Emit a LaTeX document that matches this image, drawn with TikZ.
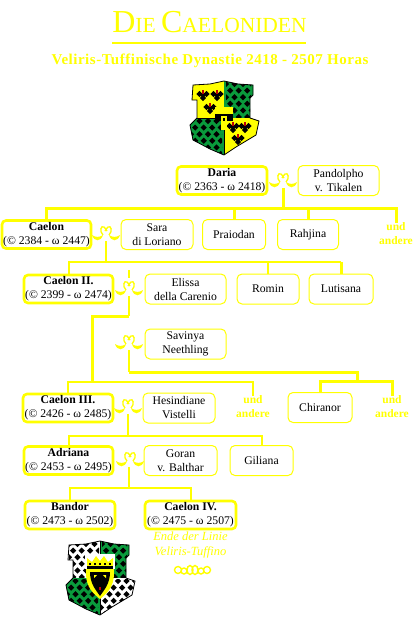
\documentclass[tikz,border=0pt]{standalone}
\usepackage{fontspec}
\setmainfont{Liberation Serif}
\usetikzlibrary{positioning}
\definecolor{gold}{HTML}{FFFF00}
\definecolor{shieldgreen}{HTML}{0A9A3C}
\definecolor{blobred}{HTML}{C00000}
\newcommand{\clubspot}[2]{%
  \fill[black] (#1,#2-1.6) circle (1.5) (#1-1.6,#2) circle (1.5) (#1+1.6,#2) circle (1.5) (#1,#2+1.6) circle (1.5);}
\newcommand{\spotfield}[4]{%
  \begin{scope}
    \clip (#1,#2) rectangle (#3,#4);
    \foreach \row in {0,...,6}{
      \foreach \col in {0,...,5}{
        \pgfmathsetmacro{\spotx}{#1+\col*8.5+mod(\row,2)*4.2}
        \pgfmathsetmacro{\spoty}{#2+2+\row*6.6}
        \clubspot{\spotx}{\spoty}
      }
    }
  \end{scope}}
\newcommand{\eagleblob}[2]{%
  \clubspot{#1-3.5}{#2}\clubspot{#1+3.5}{#2}\clubspot{#1}{#2+1}\clubspot{#1}{#2+4}
  \fill[blobred] (#1-.7,#2-4) rectangle (#1+.7,#2);}
\newcommand{\shieldoutline}{(-31,-33) -- (-14,-34) -- (0,-37) -- (14,-34) -- (29,-33) -- (29,-23) -- (26,-20) -- (26,0) -- (35,3) -- (32,17) -- (12,29) -- (0,37) -- (-14,31) -- (-31,22) -- (-34,7) -- (-27,0) -- (-27,-18) -- (-32,-18) -- cycle}
\begin{document}
\begin{tikzpicture}[
    x=1pt, y=-1pt,
    person/.style={
      draw=gold, line width=2.6pt, rounded corners=4pt, fill=white, align=center, outer sep=0pt,
      minimum height=28pt, inner sep=0pt, font=\fontsize{11.7}{14}\selectfont,
      execute at begin node=\rule{0pt}{11pt}
    },
    spouse/.style={
      draw=gold, line width=1pt, rounded corners=5pt, fill=white, align=center, outer sep=0pt,
      minimum height=30pt, inner sep=0pt, font=\fontsize{11.7}{14}\selectfont
    },
    others/.style={
      text=gold, align=center, inner sep=0pt, font=\bfseries\fontsize{11.5}{14}\selectfont
    },
    bar/.style={draw=gold, line width=2pt},
    trunk/.style={draw=gold, line width=3pt},
    wed/.pic={
      \fill[gold] (-14,0) .. controls (-12,7) and (-5,7) .. (-3,0) .. controls (-6,2.5) and (-11,2.5) .. cycle;
      \fill[gold] (3,0) .. controls (5,7) and (12,7) .. (14,0) .. controls (11,2.5) and (6,2.5) .. cycle;
      \draw[gold, line width=1.3pt] (-3,0) .. controls (-7,-4) and (-5,-10) .. (-2,-8) .. controls (-1,-7) .. (1,-4);
      \draw[gold, line width=1.3pt] (3,0) .. controls (7,-4) and (5,-10) .. (2,-8) .. controls (1,-7) .. (-1,-4);
    }
  ]
  \useasboundingbox (0,0) rectangle (420,626);
  \fill[white] (0,0) rectangle (420,626);

  \node[text=gold, inner sep=0pt, anchor=base] (title) at (209.5,33)
    {\fontsize{32}{32}\selectfont D\fontsize{21.5}{32}\selectfont IE \fontsize{32}{32}\selectfont C\fontsize{21.5}{32}\selectfont AELONIDEN};
  \fill[gold] (112,42) rectangle (306,44);
  \node[text=gold, inner sep=0pt, font=\bfseries\fontsize{15}{16}\selectfont\addfontfeatures{LetterSpace=3.5}] (subtitle) at (210,61)
    {Veliris-Tuffinische Dynastie 2418 - 2507 Horas};

  \begin{scope}[shift={(224,118)}]
    \begin{scope}
      \clip \shieldoutline;
      \fill[gold] (-40,-40) rectangle (0,0);
      \fill[shieldgreen] (0,-40) rectangle (40,0);
      \fill[shieldgreen] (-40,0) rectangle (0,40);
      \fill[gold] (0,0) rectangle (40,40);
      \spotfield{2}{-36}{27}{-1}
      \spotfield{-33}{1}{-2}{37}
    \end{scope}
    \eagleblob{-21}{-24}
    \eagleblob{-7}{-24}
    \eagleblob{-14}{-11}
    \eagleblob{9}{8}
    \eagleblob{21}{8}
    \eagleblob{14}{20}
    \draw[black, line width=1pt] (-27,0) -- (0,0) -- (0,37);
    \draw[black, line width=.8pt] \shieldoutline;
    \fill[black] (-9,-5) rectangle (9,3);
    \fill[gold] (-9,-11) -- (9,-11) -- (9,-4) -- (-9,-4) -- cycle;
    \fill[gold] (-3,-2) rectangle (3,12);
    \fill[black] (-1,0) rectangle (1,3);
  \end{scope}

  \node[person, minimum width=90pt] (daria) at (222,180.5) {\textbf{Daria}\\(© 2363 - ω 2418)};
  \node[spouse, minimum width=81pt, right=31pt of daria] (pandolpho) {Pandolpho\\v. Tikalen};
  \node[person, minimum width=89pt] (caelon) at (46.5,234.5) {\textbf{Caelon}\\(© 2384 - ω 2447)};
  \node[spouse, minimum width=72pt, right=30pt of caelon] (sara) {Sara\\di Loriano};
  \node[spouse, minimum width=63pt, right=9.5pt of sara] (praiodan) {Praiodan};
  \node[spouse, minimum width=61pt, right=12pt of praiodan] (rahjina) {Rahjina};
  \node[others] (undone) at (396,234) {und\\andere};
  \node[person, minimum width=89pt] (caelontwo) at (68.5,289) {\textbf{Caelon II.}\\(© 2399 - ω 2474)};
  \node[spouse, minimum width=81pt, right=32pt of caelontwo] (elissa) {Elissa\\della Carenio};
  \node[spouse, minimum width=62pt, right=11pt of elissa] (romin) {Romin};
  \node[spouse, minimum width=64pt, right=10pt of romin] (lutisana) {Lutisana};
  \node[spouse, minimum width=81pt] (savinya) at (185.5,344) {Savinya\\Neethling};
  \node[person, minimum width=90pt] (caelonthree) at (68,408) {\textbf{Caelon III.}\\(© 2426 - ω 2485)};
  \node[spouse, minimum width=72pt, right=30pt of caelonthree] (hesindiane) {Hesindiane\\Vistelli};
  \node[others] (undtwo) at (253,407) {und\\andere};
  \node[spouse, minimum width=64pt] (chiranor) at (320,407.5) {Chiranor};
  \node[others] (undthree) at (392,407) {und\\andere};
  \node[person, minimum width=89pt] (adriana) at (68.5,460.5) {\textbf{Adriana}\\(© 2453 - ω 2495)};
  \node[spouse, minimum width=73pt, right=31pt of adriana] (goran) {Goran\\v. Balthar};
  \node[spouse, minimum width=63pt, right=13pt of goran] (giliana) {Giliana};
  \node[person, minimum width=90pt] (bandor) at (70,515) {\textbf{Bandor}\\(© 2473 - ω 2502)};
  \node[person, minimum width=91pt] (caelonfour) at (190.5,515) {\textbf{Caelon IV.}\\(© 2475 - ω 2507)};
  \node[text=gold, align=center, inner sep=0pt, font=\itshape\fontsize{12.5}{15}\selectfont, below=3pt of caelonfour] (ende) {Ende der Linie\\Veliris-Tuffino};

  \coordinate (wdaria) at (283,182);
  \coordinate (wcaelon) at (106,235);
  \coordinate (wcaelontwo) at (129,290);
  \coordinate (wsavinya) at (129,344);
  \coordinate (wcaelonthree) at (128,408);
  \coordinate (wadriana) at (130,461);
  \foreach \wd in {wdaria,wcaelon,wcaelontwo,wsavinya,wcaelonthree,wadriana}{
    \pic at (\wd) {wed};
  }
  \coordinate (gendaria) at (0,208);
  \coordinate (gencaelon) at (0,262);
  \coordinate (gentwo) at (0,316);
  \coordinate (genthree) at (0,382);
  \coordinate (gensavinya) at (0,372);
  \coordinate (genchiranor) at (0,381);
  \coordinate (genadriana) at (0,436);
  \coordinate (genbandor) at (0,488);
  \coordinate (forkchiranor) at (357,372);
  \coordinate (forkthree) at (92,316);

  \draw[trunk] (wdaria) ++(0,6) -- (wdaria |- gendaria);
  \draw[trunk] (caelon.north) |- (undone.north |- gendaria) -- (undone.north);
  \draw[trunk] (praiodan.north) -- (praiodan.north |- gendaria);
  \draw[trunk] (rahjina.north) -- (rahjina.north |- gendaria);

  \draw[bar] (wcaelon) ++(0,6) -- (wcaelon |- gencaelon);
  \draw[bar] (caelontwo.north) |- (lutisana.north |- gencaelon);
  \draw[bar] (romin.north) -- (romin.north |- gencaelon);
  \draw[trunk] (lutisana.north) -- (lutisana.north |- gencaelon);

  \draw[bar] (wcaelontwo) ++(0,-20) -- ++(0,8);
  \draw[bar] (wcaelontwo) ++(0,6) -- (wcaelontwo |- gentwo);
  \draw[trunk] (wcaelontwo |- gentwo) -- (forkthree) -- (forkthree |- genthree);
  \draw[bar] (caelonthree.north) |- (undtwo.north |- genthree) -- (undtwo.north);

  \draw[bar] (wsavinya) ++(0,6) -- (wsavinya |- gensavinya);
  \draw[trunk] (wsavinya |- gensavinya) -- (forkchiranor) -- (forkchiranor |- genchiranor);
  \draw[trunk] (chiranor.north) |- (undthree.north |- genchiranor) -- (undthree.north);

  \draw[bar] (wcaelonthree) ++(0,6) -- (wcaelonthree |- genadriana);
  \draw[bar] (adriana.north) |- (giliana.north |- genadriana) -- (giliana.north);

  \draw[bar] (wadriana) ++(-1,6) -- (129,488);
  \draw[bar] (bandor.north) |- (caelonfour.north |- genbandor) -- (caelonfour.north);

  \begin{scope}[shift={(192,570)}, gold, line width=1.4pt]
    \draw (-14,0) circle (3.5) (-8,1) circle (3) (-2,0) ellipse (3 and 4.5);
    \draw (3,0) ellipse (3 and 4.5) (9,1) circle (3) (15,0) circle (3.5);
  \end{scope}

  \begin{scope}[shift={(100,578)}]
    \begin{scope}
      \clip \shieldoutline;
      \fill[white] (-40,-40) rectangle (0,0);
      \fill[shieldgreen] (0,-40) rectangle (40,0);
      \fill[shieldgreen] (-40,0) rectangle (0,40);
      \fill[white] (0,0) rectangle (40,40);
      \spotfield{-31}{-36}{-1}{-1}
      \spotfield{2}{-36}{27}{-1}
      \spotfield{-33}{1}{-2}{37}
      \spotfield{1}{1}{34}{37}
    \end{scope}
    \draw[black, line width=1pt] (0,-37) -- (0,37);
    \draw[black, line width=.8pt] \shieldoutline;
    \fill[white] (-15,-24) rectangle (15,-9);
    \fill[gold] (-13,-12) -- (-13,-20) -- (-8,-16) -- (-4,-22) -- (0,-17) -- (4,-22) -- (8,-16) -- (13,-20) -- (13,-12) -- cycle;
    \foreach \crownx in {-10,-5,...,10}{
      \fill[black] (\crownx-.8,-15) rectangle ++(1.6,2);
    }
    \fill[black] (-13,-12) rectangle (13,-9);
    \fill[gold] (-14,-9) rectangle (14,-5);
    \fill[gold] (-14,-5) -- (14,-5) .. controls (14,10) and (6,16) .. (0,21) .. controls (-6,16) and (-14,10) .. cycle;
    \fill[black] (-10,-6) -- (10,-6) .. controls (10,6) and (4,12) .. (0,18) .. controls (-4,12) and (-10,6) .. cycle;
    \fill[gold] (-3,-3) -- (-6,-3) -- (-6,0) -- cycle (3,-3) -- (6,-3) -- (6,0) -- cycle;
    \fill[blobred] (-1,9) rectangle (1,12);
  \end{scope}
\end{tikzpicture}
\end{document}
